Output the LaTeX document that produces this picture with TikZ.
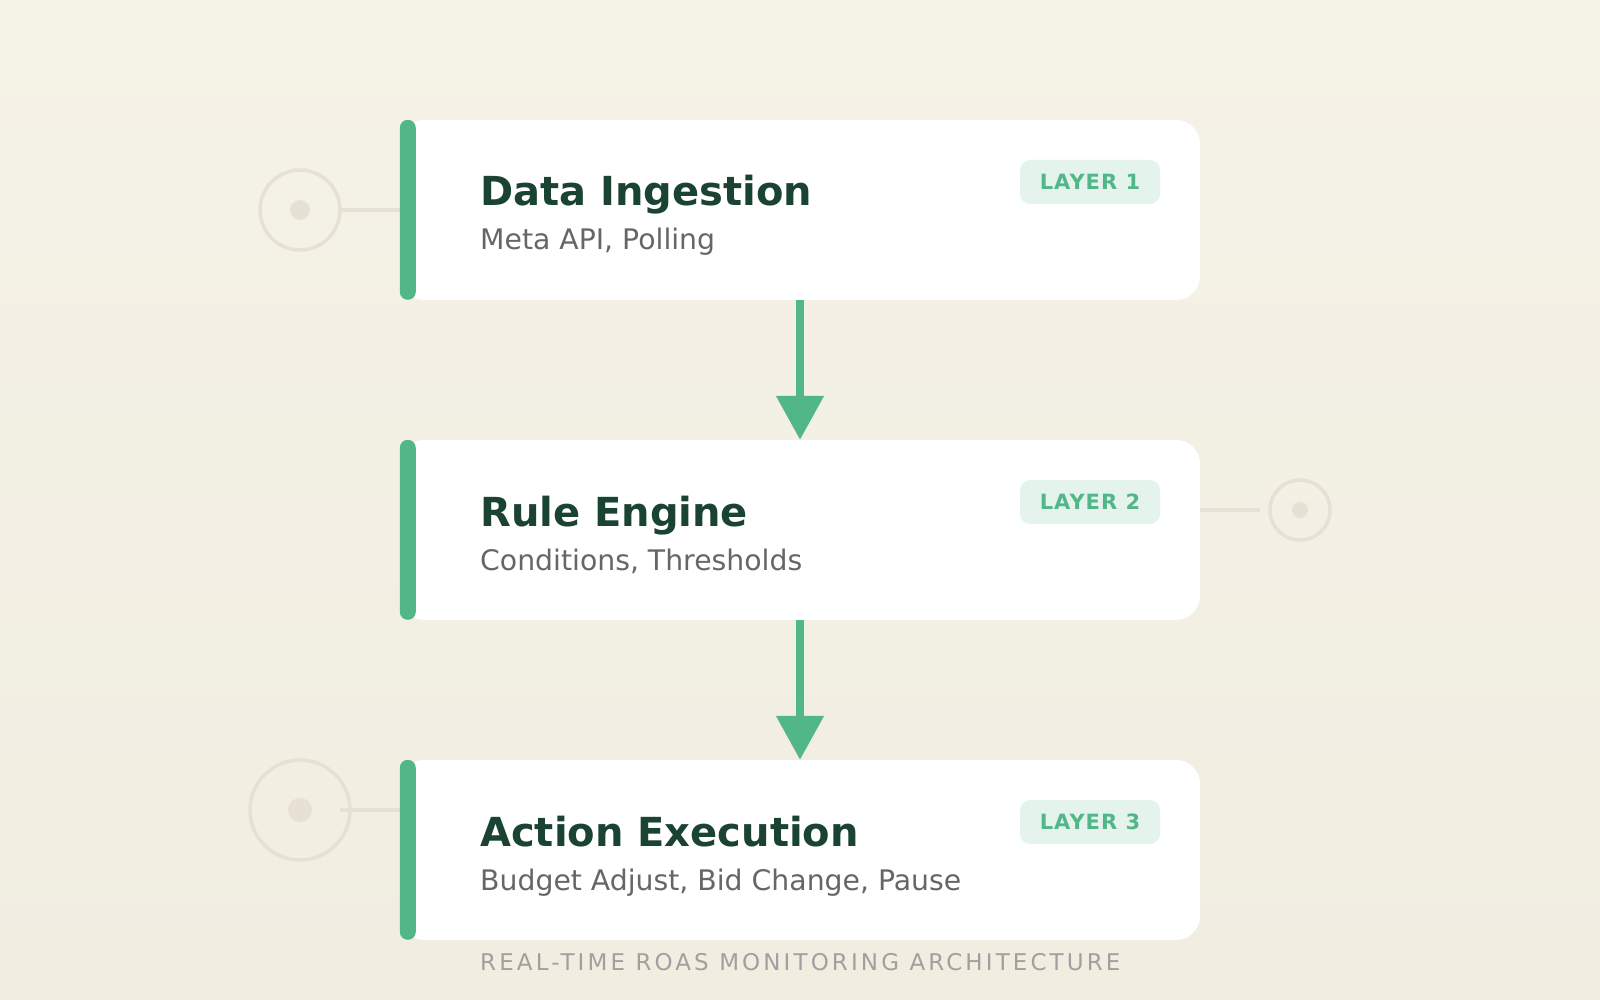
\documentclass[tikz,border=0pt]{standalone}
\usepackage{fontspec}
\setmainfont{DejaVu Sans}
\newfontfamily\footfont[LetterSpace=13.5]{DejaVu Sans}
\newfontfamily\badgefont[LetterSpace=4.8]{DejaVu Sans}
\usetikzlibrary{arrows.meta}
\definecolor{bgtop}{HTML}{F5F2E7}
\definecolor{bgbot}{HTML}{F1EDE1}
\definecolor{accent}{HTML}{52B788}
\definecolor{titlec}{HTML}{1B4332}
\definecolor{subc}{HTML}{666666}
\definecolor{badgebg}{HTML}{E4F4EC}
\definecolor{deco}{HTML}{E6E1D2}
\definecolor{footc}{HTML}{A0A0A0}
\tikzset{
  card/.style={rectangle, rounded corners=24pt, fill=white, minimum width=800pt, minimum height=180pt, inner sep=0pt},
  bar/.style={fill=accent, rounded corners=8pt},
  titletext/.style={anchor=base west, inner sep=0pt, text=titlec, font=\fontsize{40}{48}\selectfont\bfseries},
  subtext/.style={anchor=base west, inner sep=0pt, text=subc, font=\fontsize{28.3}{34}\selectfont},
  badge/.style={rectangle, rounded corners=10pt, fill=badgebg, minimum width=140pt, minimum height=44pt, inner sep=0pt, text=accent, font=\badgefont\fontsize{21}{25}\selectfont\bfseries},
  flow/.style={draw=accent, line width=8pt, -{Triangle[width=46pt,length=44pt]}},
  ring/.style={circle, draw=deco, line width=3.5pt, inner sep=0pt},
  dot/.style={circle, fill=deco, inner sep=0pt},
  link/.style={draw=deco, line width=4pt},
  foot/.style={anchor=base west, inner sep=0pt, text=footc, font=\footfont\fontsize{23}{27}\selectfont}
}
\begin{document}
\begin{tikzpicture}[x=1pt,y=-1pt]
\shade[top color=bgtop,bottom color=bgbot] (0,0) rectangle (1600,1000);
\useasboundingbox (0,0) rectangle (1600,1000);

% decorative rings
\node[ring, minimum size=80pt] (r1) at (300,210) {};
\node[dot, minimum size=20pt] (d1) at (r1.center) {};
\node[ring, minimum size=60pt] (r2) at (1300,510) {};
\node[dot, minimum size=16pt] (d2) at (r2.center) {};
\node[ring, minimum size=100pt] (r3) at (300,810) {};
\node[dot, minimum size=24pt] (d3) at (r3.center) {};
\coordinate (l3) at (340,810);
\coordinate (l2) at (1260,510);

% cards
\node[card] (c1) at (800,210) {};
\node[card] (c2) at (800,530) {};
\node[card] (c3) at (800,850) {};

% links
\draw[link] (r1.east) -- (r1 -| c1.west);
\draw[link] (c2.east |- r2) -- (l2);
\draw[link] (l3) -- (r3 -| c3.west);

% bars
\fill[bar] (c1.north west) rectangle ++(16,180);
\fill[bar] (c2.north west) rectangle ++(16,180);
\fill[bar] (c3.north west) rectangle ++(16,180);

% texts
\node[titletext] (t1) at (480,206) {Data Ingestion};
\node[subtext] (s1) at (480,250) {Meta API, Polling};
\node[badge] (b1) at (1090,182) {LAYER 1};

\node[titletext] (t2) at (480,526) {Rule Engine};
\node[subtext] (s2) at (480,570) {Conditions, Thresholds};
\node[badge] (b2) at (1090,502) {LAYER 2};

\node[titletext] (t3) at (480,846) {Action Execution};
\node[subtext] (s3) at (480,890) {Budget Adjust, Bid Change, Pause};
\node[badge] (b3) at (1090,822) {LAYER 3};

% flow arrows
\draw[flow] (c1.south) -- (c2.north);
\draw[flow] (c2.south) -- (c3.north);

\node[foot] (f) at (480,970) {REAL-TIME ROAS MONITORING ARCHITECTURE};
\end{tikzpicture}
\end{document}
